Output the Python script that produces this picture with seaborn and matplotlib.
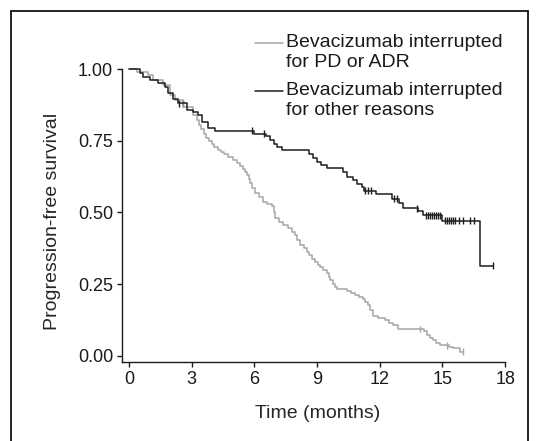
import numpy as np
import pandas as pd
import matplotlib
matplotlib.use('Agg')
import matplotlib.pyplot as plt
import seaborn as sns
from matplotlib.lines import Line2D

# groups
group_pd = 'Bevacizumab interrupted\nfor PD or ADR'
group_other = 'Bevacizumab interrupted\nfor other reasons'

# KM steps (time in months, progression-free survival)
times_pd = [0, 0.4, 0.9, 1.16, 1.64, 1.96, 2.2, 2.6, 3.08, 3.24, 3.35, 3.45, 3.57, 3.7,
            3.82, 3.95, 4.07, 4.25, 4.4, 4.55, 4.73, 4.97, 5.15, 5.3, 5.47, 5.55, 5.63,
            5.72, 5.79, 5.9, 6.03, 6.2, 6.43, 6.6, 6.83, 6.92, 7.0, 7.2, 7.38, 7.6, 7.8,
            7.94, 8.02, 8.2, 8.35, 8.5, 8.62, 8.74, 8.9, 9.05, 9.14, 9.3, 9.46, 9.55,
            9.62, 9.75, 9.85, 9.94, 10.45, 10.6, 10.81, 11.0, 11.2, 11.3, 11.45, 11.55,
            11.69, 11.9, 12.25, 12.45, 12.65, 12.89, 14.1, 14.24, 14.4, 14.56, 14.7,
            14.88, 15.3, 15.52, 15.84]
surv_pd = [1.0, 0.99, 0.98, 0.962, 0.944, 0.909, 0.892, 0.868, 0.840, 0.822, 0.805, 0.790,
           0.774, 0.760, 0.748, 0.738, 0.728, 0.717, 0.710, 0.703, 0.693, 0.681, 0.672,
           0.662, 0.650, 0.640, 0.630, 0.615, 0.601, 0.585, 0.566, 0.553, 0.537, 0.530,
           0.522, 0.500, 0.480, 0.466, 0.456, 0.445, 0.432, 0.421, 0.402, 0.385, 0.375,
           0.363, 0.350, 0.339, 0.326, 0.316, 0.308, 0.298, 0.288, 0.276, 0.264, 0.250,
           0.240, 0.232, 0.224, 0.218, 0.212, 0.206, 0.199, 0.188, 0.176, 0.160, 0.138,
           0.131, 0.125, 0.115, 0.107, 0.093, 0.085, 0.073, 0.062, 0.055, 0.045, 0.037,
           0.032, 0.026, 0.014]
end_pd = 15.97
censor_pd = [13.92, 15.2, 15.97]

times_other = [0, 0.53, 0.68, 1.0, 1.4, 1.72, 1.88, 2.1, 2.36, 2.76, 3.08, 3.32, 3.48, 3.79,
               4.11, 6.0, 6.55, 6.75, 6.95, 7.1, 7.3, 8.6, 8.8, 9.0, 9.2, 9.46, 10.25, 10.45,
               10.7, 10.9, 11.13, 11.25, 11.8, 12.6, 12.9, 13.1, 13.85, 14.05, 15.0, 16.79]
surv_other = [1.0, 0.985, 0.973, 0.962, 0.950, 0.938, 0.915, 0.897, 0.880, 0.857, 0.851,
              0.840, 0.816, 0.793, 0.785, 0.775, 0.765, 0.752, 0.740, 0.728, 0.717, 0.702,
              0.690, 0.677, 0.665, 0.654, 0.640, 0.625, 0.612, 0.600, 0.590, 0.576, 0.563,
              0.548, 0.532, 0.514, 0.505, 0.490, 0.471, 0.314]
end_other = 17.43
censor_other = [2.4, 2.6, 5.9, 6.46, 11.3, 11.45, 11.6, 12.7, 12.8, 13.77,
                14.2, 14.3, 14.4, 14.5, 14.6, 14.7, 14.8, 14.9,
                15.1, 15.2, 15.3, 15.4, 15.5, 15.6, 15.8, 16.0, 16.3, 16.5, 17.43]

x_ticks = [0, 3, 6, 9, 12, 15, 18]
y_ticks = [0.0, 0.25, 0.5, 0.75, 1.0]
y_ticklabels = ['0.00', '0.25', '0.50', '0.75', '1.00']

palette = {group_pd: '#a6a6a6', group_other: '#1e1e1e'}


def km_frame(times, surv, end, name):
    return pd.DataFrame({'time': list(times) + [end],
                         'pfs': list(surv) + [surv[-1]],
                         'group': name})


def censor_frame(times, surv, cens, name):
    idx = np.searchsorted(times, cens, side='right') - 1
    return pd.DataFrame({'time': cens, 'pfs': np.array(surv)[idx], 'group': name})


curves = pd.concat([km_frame(times_pd, surv_pd, end_pd, group_pd),
                    km_frame(times_other, surv_other, end_other, group_other)])
censors = pd.concat([censor_frame(times_pd, surv_pd, censor_pd, group_pd),
                     censor_frame(times_other, surv_other, censor_other, group_other)])

sns.set_style('ticks')
plt.rcParams['font.family'] = ['Liberation Sans', 'DejaVu Sans']
plt.rcParams['text.color'] = '#1a1a1a'

W, H = 541, 441
fig = plt.figure(figsize=(W / 100, H / 100), dpi=100)
ax = fig.add_axes([0.2257, 0.1785, 0.7081, 0.6728])

sns.lineplot(data=curves, x='time', y='pfs', hue='group', palette=palette,
             drawstyle='steps-post', estimator=None, sort=False, legend=False,
             linewidth=1.1, ax=ax)
sns.scatterplot(data=censors, x='time', y='pfs', hue='group', palette=palette,
                marker='|', s=25, linewidth=1.0, legend=False, ax=ax)

ax.set_xlim(-0.33, 18)
ax.set_ylim(-0.023, 1.012)
sns.despine(ax=ax)
ax.spines['left'].set_bounds(-0.023, 1.0)
for s in ['left', 'bottom']:
    ax.spines[s].set_linewidth(1.0)
    ax.spines[s].set_color('#1a1a1a')

ax.set_xticks(x_ticks)
ax.set_xticklabels([str(t) for t in x_ticks])
ax.set_yticks(y_ticks)
ax.set_yticklabels(y_ticklabels)
ax.tick_params(direction='out', length=3.5, width=1.0, labelsize=13, pad=3,
               colors='#1a1a1a')

ax.set_xlabel('Time (months)', fontsize=14)
ax.set_ylabel('Progression-free survival', fontsize=14)
ax.xaxis.set_label_coords(0.511, -0.145)
ax.yaxis.set_label_coords(-0.16, 0.476)


def fx(px):
    return px / W


def fy(py):
    return 1 - py / H


# legend, handle level with the first line of each label
legend_rows = [(group_pd, 43), (group_other, 91)]
for name, ypix in legend_rows:
    fig.add_artist(Line2D([fx(255), fx(283)], [fy(ypix), fy(ypix)],
                          transform=fig.transFigure, color=palette[name], lw=1.1))
    fig.text(fx(286), fy(ypix - 9), name, fontsize=14, ha='left', va='top',
             linespacing=1.25)

# frame around the panel
frame = dict(transform=fig.transFigure, color='black', lw=1.2)
fig.add_artist(Line2D([fx(11), fx(11)], [0, fy(10.5)], **frame))
fig.add_artist(Line2D([fx(11), fx(528)], [fy(10.5), fy(10.5)], **frame))
fig.add_artist(Line2D([fx(528), fx(528)], [0, fy(10.5)], **frame))

fig.savefig('out.png', dpi=100)
